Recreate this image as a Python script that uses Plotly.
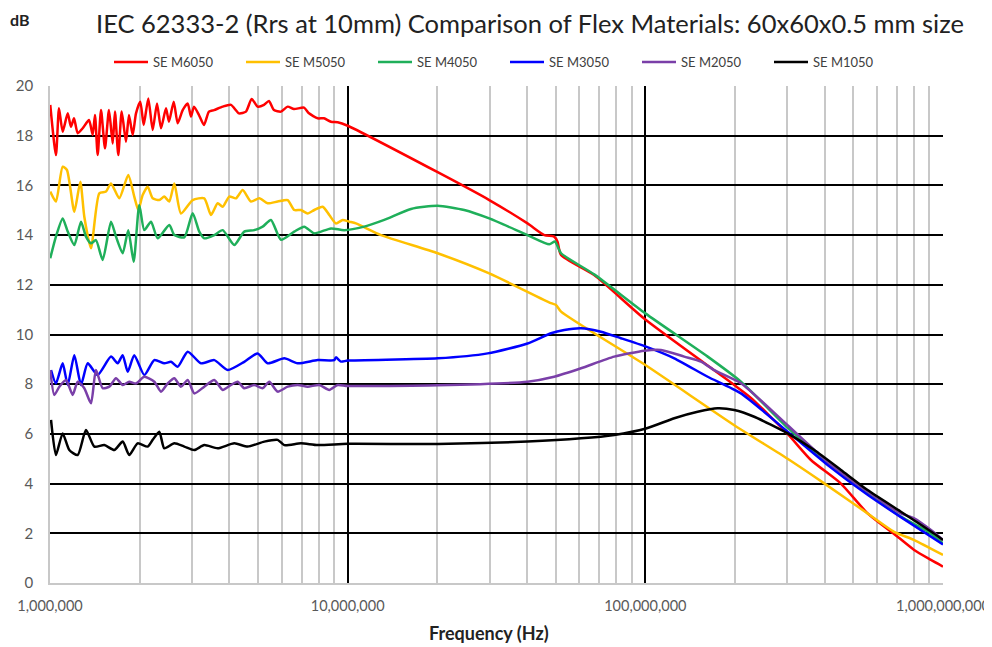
import numpy as np
import plotly.graph_objects as go

# ---------------- data (frequency in MHz, shielding in dB) ----------------
m6050_f = [1.002, 1.047, 1.072, 1.103, 1.147, 1.176, 1.204, 1.239, 1.288, 1.352, 1.391, 1.416, 1.446,
           1.484, 1.530, 1.578, 1.624, 1.653, 1.696, 1.741, 1.800, 1.842, 1.896, 1.945, 2.011, 2.064,
           2.139, 2.213, 2.288, 2.360, 2.453, 2.510, 2.604, 2.685, 2.791, 2.901, 2.976, 3.046, 3.166,
           3.291, 3.420, 3.556, 3.803, 4.055, 4.314, 4.554, 4.759, 4.985, 5.234, 5.440, 5.655, 5.970,
           6.287, 6.600, 7.134, 7.413, 7.929, 8.325, 8.788, 9.256, 10.0, 20.06, 29.9, 40.2, 45.8, 49.4,
           50.7, 52.1, 67.3, 100.0, 198.9, 226.3, 300.6, 360.0, 454.0, 558.0, 704.0, 800.0, 911.0, 1000.0]
m6050_v = [19.24, 17.22, 19.10, 18.16, 18.90, 18.36, 18.70, 18.10, 18.30, 18.63, 18.03, 18.83, 17.22,
           19.03, 17.49, 19.03, 17.69, 18.97, 17.22, 18.97, 17.76, 18.83, 18.03, 18.90, 19.37, 18.43,
           19.50, 18.23, 19.30, 18.30, 19.10, 18.56, 19.37, 18.50, 19.03, 19.30, 18.77, 19.17, 18.83,
           18.43, 18.97, 19.03, 19.17, 19.24, 18.90, 18.97, 19.48, 19.17, 19.24, 19.40, 19.03, 18.97,
           19.17, 19.07, 19.13, 18.90, 18.70, 18.70, 18.56, 18.54, 18.40, 16.53, 15.41, 14.47, 14.00, 13.94,
           13.73, 13.20, 12.39, 10.60, 7.97, 7.45, 6.00, 4.95, 4.00, 2.80, 1.86, 1.33, 0.93, 0.66]

m5050_f = [1.002, 1.047, 1.103, 1.140, 1.207, 1.264, 1.304, 1.373, 1.464, 1.542, 1.603, 1.709, 1.832,
           1.919, 1.980, 2.048, 2.129, 2.213, 2.329, 2.421, 2.516, 2.616, 2.754, 3.015, 3.298, 3.474,
           3.659, 3.803, 4.002, 4.215, 4.439, 4.733, 5.047, 5.385, 5.819, 6.287, 6.616, 6.968, 7.339,
           7.723, 8.241, 8.674, 9.135, 9.621, 10.12, 10.66, 12.94, 20.06, 29.9, 48.2, 50.1, 52.1, 100.0,
           198.9, 300.6, 399.0, 558.0, 685.0, 800.0, 1000.0]
m5050_v = [15.75, 15.35, 16.75, 16.62, 14.94, 16.15, 14.74, 13.47, 15.68, 15.75, 16.08, 15.48, 16.42,
           15.55, 15.01, 15.61, 15.95, 15.48, 15.41, 15.55, 15.35, 16.08, 14.87, 15.41, 15.48, 14.81,
           15.28, 15.14, 15.55, 15.48, 15.81, 15.35, 15.48, 15.28, 15.35, 15.41, 15.01, 15.01, 14.87,
           15.01, 15.14, 14.81, 14.47, 14.61, 14.54, 14.47, 14.00, 13.27, 12.46, 11.26, 11.19, 10.92, 8.77,
           6.35, 5.00, 4.01, 2.80, 2.06, 1.73, 1.13]

m4050_f = [1.002, 1.047, 1.103, 1.147, 1.207, 1.271, 1.321, 1.373, 1.427, 1.503, 1.603, 1.666, 1.755,
           1.832, 1.910, 1.995, 2.074, 2.184, 2.300, 2.516, 2.616, 2.826, 3.015, 3.173, 3.298, 3.564,
           3.803, 4.160, 4.494, 4.856, 5.181, 5.525, 5.970, 6.616, 7.149, 7.723, 8.788, 9.74, 11.37,
           13.27, 16.32, 20.06, 24.64, 29.9, 40.2, 47.6, 49.7, 52.1, 67.3, 100.0, 162.0, 209.5, 300.6,
           409.7, 558.0, 722.0, 888.0, 1000.0]
m4050_v = [13.07, 13.94, 14.67, 14.14, 13.60, 14.54, 13.94, 13.67, 13.80, 13.00, 14.54, 13.94, 13.27,
           14.20, 12.93, 15.21, 14.20, 14.54, 13.87, 14.41, 14.00, 13.91, 14.88, 14.14, 13.87, 14.00,
           14.20, 13.60, 14.14, 14.20, 14.34, 14.61, 13.81, 14.14, 14.34, 14.07, 14.27, 14.20, 14.34,
           14.61, 15.05, 15.18, 15.01, 14.67, 14.00, 13.63, 13.74, 13.27, 12.42, 10.85, 9.11, 8.10, 6.25,
           4.82, 3.61, 2.67, 2.07, 1.60]

m3050_f = [1.008, 1.047, 1.103, 1.147, 1.207, 1.271, 1.339, 1.446, 1.603, 1.688, 1.755, 1.824, 1.919,
           2.074, 2.241, 2.421, 2.550, 2.685, 2.901, 3.215, 3.564, 3.953, 4.494, 4.985, 5.385, 6.124,
           6.792, 7.929, 9.016, 9.135, 9.495, 10.0, 20.06, 29.53, 40.2, 48.2, 53.4, 60.8, 70.9, 82.8,
           100.5, 125.1, 162.0, 209.5, 300.6, 409.7, 558.0, 722.0, 1000.0]
m3050_v = [8.57, 8.03, 8.84, 7.97, 9.17, 7.97, 8.84, 8.37, 9.11, 8.84, 9.17, 8.50, 9.17,
           8.37, 8.97, 8.84, 8.90, 8.70, 9.31, 8.84, 8.97, 8.57, 8.90, 9.24, 8.84, 9.04,
           8.84, 8.97, 8.97, 9.08, 8.91, 8.95, 9.04, 9.24, 9.64, 10.05, 10.18, 10.25, 10.11, 9.85,
           9.51, 9.04, 8.30, 7.63, 6.09, 4.75, 3.55, 2.65, 1.55]

m2050_f = [1.002, 1.034, 1.075, 1.132, 1.192, 1.239, 1.304, 1.373, 1.427, 1.503, 1.582, 1.666, 1.755,
           1.846, 1.945, 2.074, 2.241, 2.360, 2.486, 2.616, 2.754, 2.901, 3.053, 3.298, 3.564, 3.803,
           4.055, 4.270, 4.494, 4.856, 5.181, 5.452, 5.819, 6.287, 6.792, 7.339, 8.027, 8.674, 9.256,
           10.0, 20.06, 40.2, 49.4, 60.8, 78.6, 99.2, 112.8, 135.1, 153.8, 170.3, 209.5, 300.6, 409.7,
           558.0, 722.0, 800.0, 911.0, 1000.0]
m2050_v = [8.57, 7.57, 7.90, 8.17, 7.57, 8.10, 7.84, 7.23, 8.57, 7.84, 7.90, 8.24, 7.97,
           8.10, 8.03, 8.30, 8.10, 7.70, 8.03, 8.24, 7.90, 8.17, 7.63, 7.90, 8.17, 7.77,
           7.97, 8.10, 7.84, 7.97, 7.84, 8.10, 7.70, 7.90, 7.97, 7.90, 7.97, 7.77, 7.97,
           7.93, 7.96, 8.10, 8.30, 8.64, 9.11, 9.35, 9.38, 9.11, 8.91, 8.57, 8.04, 6.35, 4.88,
           3.68, 2.80, 2.60, 2.13, 1.73]

m1050_f = [1.008, 1.047, 1.103, 1.161, 1.239, 1.321, 1.409, 1.522, 1.644, 1.755, 1.846, 1.970, 2.129,
           2.213, 2.329, 2.421, 2.616, 2.826, 3.053, 3.298, 3.659, 4.160, 4.614, 5.246, 5.819, 6.124,
           6.968, 7.929, 10.0, 20.06, 40.2, 60.8, 78.6, 100.5, 125.1, 149.9, 174.9, 198.9, 232.2, 300.6,
           369.3, 454.0, 558.0, 722.0, 911.0, 1000.0]
m1050_v = [6.56, 5.15, 6.02, 5.35, 5.15, 6.16, 5.49, 5.55, 5.35, 5.69, 5.15, 5.62, 5.49,
           5.76, 6.09, 5.42, 5.62, 5.49, 5.35, 5.55, 5.42, 5.62, 5.49, 5.69, 5.76, 5.55,
           5.62, 5.55, 5.60, 5.59, 5.69, 5.82, 5.96, 6.22, 6.63, 6.89, 7.03, 6.96, 6.69, 6.02,
           5.35, 4.55, 3.74, 2.87, 2.07, 1.73]

series_names = ["SE M6050", "SE M5050", "SE M4050", "SE M3050", "SE M2050", "SE M1050"]
series_f = [m6050_f, m5050_f, m4050_f, m3050_f, m2050_f, m1050_f]
series_v = [m6050_v, m5050_v, m4050_v, m3050_v, m2050_v, m1050_v]
series_colors = ["#FF0000", "#FFC000", "#1FAF5A", "#0000FF", "#7A3FA8", "#000000"]

x_tickvals = [1e6, 1e7, 1e8, 1e9]
x_ticktext = ["1,000,000", "10,000,000", "100,000,000", "1,000,000,000"]
x_minor = [m * 10 ** e for e in (6, 7, 8) for m in range(2, 10)]

TITLE = "IEC 62333-2 (Rrs at 10mm) Comparison of Flex Materials: 60x60x0.5 mm size"
X_TITLE = "<b>Frequency (Hz)</b>"
FONT = "Lato"
PW, PH = 893, 497

fig = go.Figure()
for name, f, v, c in zip(series_names, series_f, series_v, series_colors):
    fig.add_trace(go.Scatter(
        x=np.array(f) * 1e6, y=v, name=name, mode="lines",
        line=dict(color=c, width=2.5, shape="spline", smoothing=0.6),
    ))

fig.update_layout(
    width=992, height=647,
    margin=dict(l=42, r=57, t=78, b=72),
    paper_bgcolor="white", plot_bgcolor="white",
    font=dict(family=FONT, color="#404040"),
    showlegend=True,
    legend=dict(orientation="h", x=(108 - 49) / PW, xanchor="left", y=1 + 24 / PH, yanchor="middle",
                font=dict(family=FONT, size=13, color="#404040"),
                entrywidth=83, entrywidthmode="pixels", itemwidth=34,
                bgcolor="rgba(0,0,0,0)"),
    annotations=[
        dict(text="<b>dB</b>", xref="paper", yref="paper", x=-42 / PW, y=1 + 67 / PH,
             xanchor="left", yanchor="middle", showarrow=False,
             font=dict(family=FONT, size=16, color="#222222")),
        dict(text=TITLE, xref="paper", yref="paper", x=(93 - 49) / PW, y=1 + 63 / PH,
             xanchor="left", yanchor="middle", showarrow=False,
             font=dict(family=FONT, size=25.5, color="#222222")),
        dict(text=X_TITLE, xref="paper", yref="paper", x=(488 - 49) / PW, y=-50 / PH,
             xanchor="center", yanchor="middle", showarrow=False,
             font=dict(family=FONT, size=18, color="#222222")),
    ],
)

fig.update_xaxes(
    type="log", range=[6, 9],
    tickvals=x_tickvals, ticktext=x_ticktext,
    tickfont=dict(family=FONT, size=14.5, color="#595959"),
    ticks="", ticklabelstandoff=9,
    showgrid=True, gridcolor="#000000", gridwidth=1.5,
    minor=dict(tickvals=x_minor, showgrid=True, gridcolor="#C8C8C8", gridwidth=1.8, ticks=""),
    showline=True, linecolor="#C8C8C8", linewidth=1.5, mirror=False,
    zeroline=False, automargin=False,
)
fig.update_yaxes(
    range=[0, 20], dtick=2, tick0=0,
    tickfont=dict(family=FONT, size=15, color="#595959"),
    ticks="", ticklabelstandoff=12,
    showgrid=True, gridcolor="#000000", gridwidth=1.5,
    showline=True, linecolor="#C8C8C8", linewidth=1.5,
    zeroline=False, automargin=False,
)

fig.write_html("out.html")
